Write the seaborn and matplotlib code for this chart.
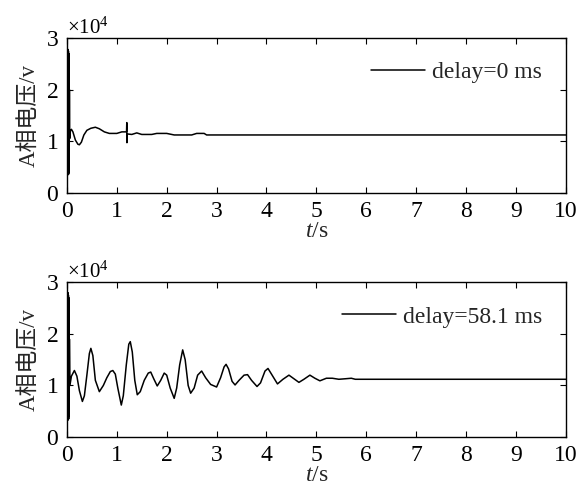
import numpy as np
import pandas as pd
import matplotlib
matplotlib.use("Agg")
import matplotlib.pyplot as plt
import seaborn as sns

# A-phase voltage (V), two fault-delay cases
t_top = [0.000, 0.010, 0.015, 0.020, 0.025, 0.030, 0.035, 0.040, 0.045, 0.050,
         0.055, 0.07, 0.09, 0.12, 0.17, 0.22, 0.25, 0.29, 0.34, 0.40, 0.48,
         0.57, 0.65, 0.75, 0.85, 1.00, 1.10, 1.195, 1.200, 1.203, 1.207,
         1.30, 1.40, 1.50, 1.70, 1.80, 2.00, 2.15, 2.50, 2.60, 2.75, 2.80, 10.0]
v_top = [11000, 27800, 3500, 27800, 3500, 27500, 3600, 27000, 4000, 20000,
         10500, 12000, 12300, 11800, 10200, 9400, 9300, 9800, 11200, 12100, 12500,
         12700, 12400, 11800, 11500, 11500, 11800, 11800, 13600, 9700, 11400,
         11300, 11600, 11300, 11300, 11500, 11500, 11200, 11200, 11500, 11500, 11200, 11200]

t_bot = [0.000, 0.010, 0.015, 0.020, 0.025, 0.030, 0.035, 0.040, 0.045, 0.050,
         0.06, 0.09, 0.15, 0.20, 0.25, 0.31, 0.35, 0.40, 0.45, 0.48,
         0.52, 0.57, 0.65, 0.73, 0.80, 0.87, 0.92, 0.97, 1.02, 1.09,
         1.13, 1.19, 1.24, 1.27, 1.31, 1.36, 1.41, 1.47, 1.55, 1.63,
         1.68, 1.74, 1.81, 1.88, 1.95, 2.00, 2.07, 2.15, 2.20, 2.26,
         2.32, 2.37, 2.43, 2.48, 2.55, 2.62, 2.70, 2.78, 2.88, 3.00,
         3.08, 3.15, 3.19, 3.24, 3.31, 3.37, 3.45, 3.55, 3.62, 3.70,
         3.81, 3.88, 3.97, 4.03, 4.10, 4.22, 4.33, 4.45, 4.55, 4.65,
         4.75, 4.87, 4.97, 5.07, 5.20, 5.32, 5.45, 5.58, 5.70, 5.78, 10.0]
v_bot = [11000, 28000, 3300, 28000, 3300, 27500, 3500, 27000, 4000, 19000,
         10000, 11800, 12900, 11800, 9000, 6900, 8000, 12000, 16200, 17200,
         15800, 11000, 8800, 10000, 11500, 12700, 12900, 12200, 9500, 6200,
         8000, 14000, 18000, 18500, 16500, 11000, 8200, 8800, 11000, 12400,
         12600, 11300, 9900, 11000, 12400, 12000, 9500, 7500, 9500, 14000,
         16900, 15000, 10000, 8500, 9500, 12000, 12800, 11500, 10200, 9700,
         11500, 13600, 14100, 13200, 10800, 10100, 11000, 12000, 12100, 11000,
         9800, 10500, 12800, 13300, 12200, 10300, 11200, 12000, 11300, 10600,
         11200, 12000, 11400, 10900, 11400, 11400, 11200, 11300, 11400, 11200, 11200]

labels = ["delay=0 ms", "delay=58.1 ms"]
x_ticks = list(range(0, 11))
y_ticks = [0, 10000, 20000, 30000]

sns.set_style("ticks")
plt.rcParams["font.family"] = ["Liberation Serif", "Noto Sans CJK SC"]
plt.rcParams["mathtext.fontset"] = "custom"
plt.rcParams["mathtext.rm"] = "Liberation Serif"
plt.rcParams["mathtext.it"] = "Liberation Serif:italic"
plt.rcParams["axes.linewidth"] = 1.0
plt.rcParams["path.simplify"] = False

fig, axes = plt.subplots(2, 1, figsize=(5.87, 4.88), dpi=100)
fig.subplots_adjust(left=0.114, right=0.964, top=0.922, bottom=0.1045, hspace=0.58)

for ax, t, v, lab in zip(axes, [t_top, t_bot], [v_top, v_bot], labels):
    df = pd.DataFrame({"t": t, "v": v})
    sns.lineplot(data=df, x="t", y="v", ax=ax, color="black", linewidth=1.1,
                 estimator=None, sort=False, label=lab)
    ax.set_xlim(0, 10)
    ax.set_ylim(0, 30000)
    ax.set_xticks(x_ticks)
    ax.set_yticks(y_ticks)
    ax.ticklabel_format(axis="y", style="sci", scilimits=(4, 4), useMathText=True)
    ax.yaxis.get_offset_text().set_fontsize(15)
    ax.tick_params(direction="in", top=True, right=True, labelsize=17,
                   length=4.5, width=0.8, colors="black", pad=6)
    for s in ax.spines.values():
        s.set_color("black")
    ax.set_xlabel("$t$/s", fontsize=17, labelpad=-1)
    ax.set_ylabel("A相电压/v", fontsize=16.5, labelpad=4)
    ax.legend(loc="upper right", frameon=False, fontsize=17,
              handlelength=2.3, handletextpad=0.3, borderaxespad=0.6)

plt.savefig("out.png", dpi=100)
